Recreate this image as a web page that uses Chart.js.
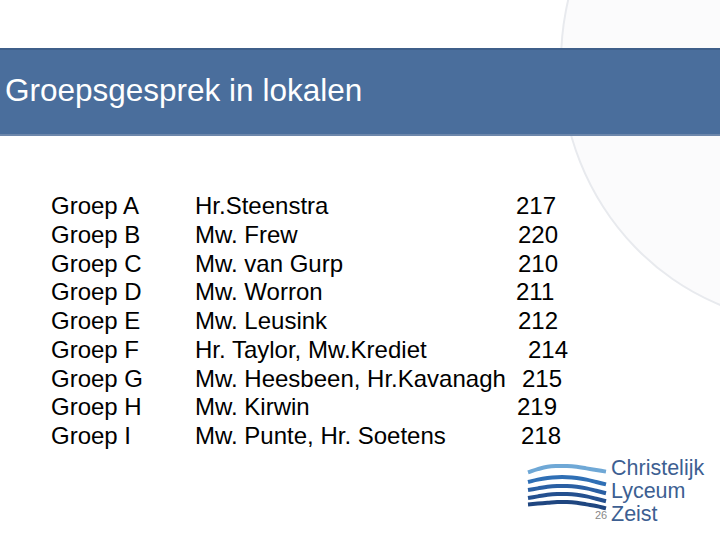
<!DOCTYPE html>
<html><head><meta charset="utf-8">
<script src="https://cdn.jsdelivr.net/npm/chart.js@4"></script>
<style>
body{margin:0;width:720px;height:540px;position:relative;overflow:hidden;background:#fff;font-family:"Liberation Sans",Arial,sans-serif}
#bg{position:absolute;left:560px;top:-200px;width:500px;height:520px;border-radius:50%;border:2px solid #e8eaee;background:#fbfbfc}
#bar{position:absolute;left:0;top:48px;width:720px;height:84px;background:#4a6e9c;border-top:2px solid #3f5f8a;border-bottom:2px solid #6d87ab}
#title{position:absolute;left:5px;top:75px;color:#fff;font-size:31.5px;line-height:1}
.t{position:absolute;font-size:24px;color:#000;white-space:nowrap;line-height:1}
.logo{position:absolute;left:611px;font-size:21.5px;color:#3d5f92;line-height:1}
#pg{position:absolute;left:595px;top:509px;font-size:11px;color:#888}
#c{position:absolute;left:526px;top:448px;width:82px;height:76px}
</style></head><body>
<div id="bg"></div><div id="bar"></div><div id="title">Groepsgesprek in lokalen</div>
<div id="tbl"></div>
<div class="logo" style="top:458px">Christelijk</div>
<div class="logo" style="top:481px">Lyceum</div>
<div class="logo" style="top:504px">Zeist</div>
<div id="pg">26</div>
<div id="c"><canvas id="cv" width="82" height="76"></canvas></div>
<script>
const groups=["Groep A","Groep B","Groep C","Groep D","Groep E","Groep F","Groep G","Groep H","Groep I"];
const teachers=["Hr.Steenstra","Mw. Frew","Mw. van Gurp","Mw. Worron","Mw. Leusink","Hr. Taylor, Mw.Krediet","Mw. Heesbeen, Hr.Kavanagh","Mw. Kirwin","Mw. Punte, Hr. Soetens"];
const rooms=["217","220","210","211","212","214","215","219","218"];
const roomX=[516,518,518,516,518,528,522,517,521];
const tbl=document.getElementById('tbl');
groups.forEach((g,i)=>{
 const y=194+i*28.75;
 [[51,g],[195,teachers[i]],[roomX[i],rooms[i]]].forEach(([x,s])=>{
  const d=document.createElement('div');d.className='t';d.style.left=x+'px';d.style.top=y+'px';d.textContent=s;tbl.appendChild(d);});
});
const waveX=[0,1,2,3,4,5,6,7,8];
const waves=[
 [6.2,6.6,6.9,7.0,7.0,6.9,6.7,6.5,6.3],
 [5.0,5.3,5.5,5.6,5.6,5.5,5.3,5.0,4.7],
 [4.0,4.2,4.4,4.5,4.5,4.4,4.2,3.9,3.6],
 [3.0,3.2,3.4,3.5,3.5,3.4,3.2,2.9,2.6],
 [2.2,2.3,2.4,2.5,2.5,2.4,2.2,2.0,1.7]
];
const cols=["#6fa8d6","#2f6fb5","#2a5fa3","#24508f","#1f4680"];
new Chart(document.getElementById('cv'),{type:'line',
 data:{labels:waveX,datasets:waves.map((w,i)=>({data:w,borderColor:cols[i],borderWidth:4,pointRadius:0,tension:0.4}))},
 options:{responsive:false,animation:false,events:[],plugins:{legend:{display:false},tooltip:{enabled:false}},
  layout:{padding:2},scales:{x:{display:false},y:{display:false,min:0,max:9}}}});
</script>
</body></html>
